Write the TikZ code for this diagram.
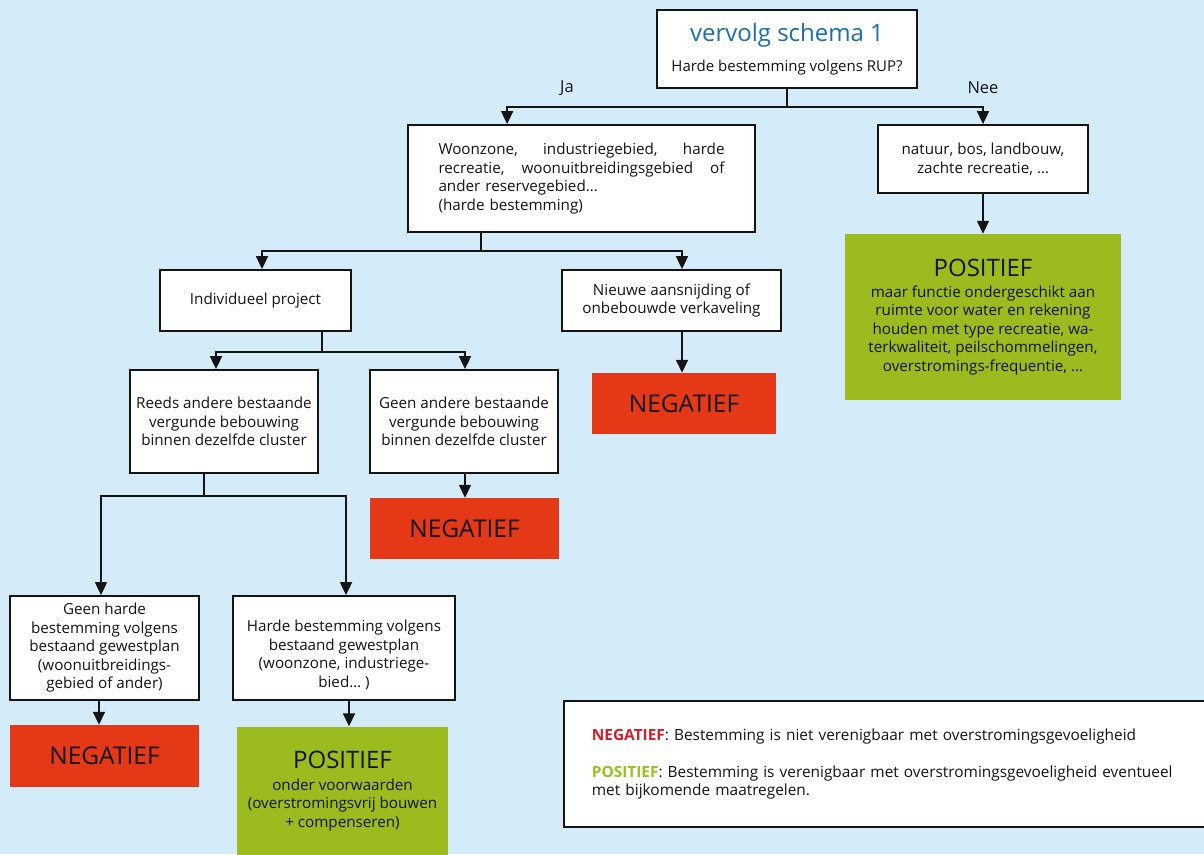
\documentclass[tikz,border=0pt]{standalone}
\usepackage{fontspec}
\setmainfont{Open Sans}
\usetikzlibrary{arrows.meta,calc}
\definecolor{bg}{RGB}{212,235,250}
\definecolor{negred}{RGB}{228,56,22}
\definecolor{posgreen}{RGB}{155,187,30}
\definecolor{titleblue}{RGB}{26,110,180}
\definecolor{legred}{RGB}{215,30,40}
\definecolor{leggreen}{RGB}{150,195,30}
\definecolor{ink}{RGB}{20,20,20}
\begin{document}
\begin{tikzpicture}[x=1pt,y=-1pt,
  box/.style={draw=ink,fill=white,line width=1.8pt,inner sep=0pt,align=center,text=ink,font=\fontsize{15.2}{18.5}\selectfont},
  negbox/.style={fill=negred,inner sep=0pt,text=ink,font=\fontsize{24.5}{28}\selectfont},
  posbox/.style={fill=posgreen,inner sep=0pt,align=center,text=ink,font=\fontsize{15.2}{18.5}\selectfont},
  lbl/.style={text=ink,inner sep=0pt,font=\fontsize{16.5}{19}\selectfont},
  link/.style={draw=ink,line width=1.8pt},
  arr/.style={draw=ink,line width=1.8pt,-{Triangle[width=12pt,length=13pt]}}]
\useasboundingbox (0,0) rectangle (1204,854);
\fill[bg] (0,0) rectangle (1204,854);

% nodes
\node[box,minimum width=260,minimum height=78] (top) at (787,49)
  {{\fontsize{24}{27}\selectfont\color{titleblue}vervolg schema 1}\\[11pt]
   {\fontsize{15}{17}\selectfont Harde bestemming volgens RUP?}};
\node[lbl] (ja) at (567,88) {Ja};
\node[lbl] (nee) at (983,88) {Nee};

\node[box,minimum width=347,minimum height=107,text width=286,align=left] (woon) at (581.5,178.5)
  {Woonzone,\hfill industriegebied,\hfill harde\\
   recreatie,\hfill woonuitbreidingsgebied\hfill of\\
   ander reservegebied\dots\\
   (harde bestemming)};
\node[box,minimum width=210,minimum height=68] (nat) at (983,159)
  {natuur, bos, landbouw,\\zachte recreatie, \dots};
\node[posbox,minimum width=276,minimum height=166] (pos1) at (983,317)
  {{\fontsize{24}{27}\selectfont POSITIEF}\\[2pt]
   maar functie ondergeschikt aan\\
   ruimte voor water en rekening\\
   houden met type recreatie, wa-\\
   terkwaliteit, peilschommelingen,\\
   overstromings-frequentie, \dots};

\node[box,minimum width=191,minimum height=61] (indiv) at (255.5,300.5) {Individueel project};
\node[box,minimum width=219,minimum height=61] (nieuw) at (671.5,300.5)
  {Nieuwe aansnijding of\\onbebouwde verkaveling};
\node[negbox,minimum width=184,minimum height=61] (neg1) at (684,403.5) {NEGATIEF};

\node[box,minimum width=188,minimum height=103] (reeds) at (224,421.5)
  {Reeds andere bestaande\\vergunde bebouwing\\binnen dezelfde cluster};
\node[box,minimum width=188,minimum height=103] (geenand) at (464,421.5)
  {Geen andere bestaande\\vergunde bebouwing\\binnen dezelfde cluster};
\node[negbox,minimum width=189,minimum height=61] (neg2) at (464.5,528.5) {NEGATIEF};

\node[box,minimum width=189,minimum height=104] (geenh) at (104.5,648)
  {Geen harde\\bestemming volgens\\bestaand gewestplan\\(woonuitbreidings-\\gebied of ander)};
\node[box,minimum width=222,minimum height=104] (hardeg) at (344,648)
  {\rule{0pt}{25pt}Harde bestemming volgens\\bestaand gewestplan\\(woonzone, industriege-\\bied\dots\ )};
\node[negbox,minimum width=189,minimum height=62] (neg3) at (104.5,756) {NEGATIEF};
\node[posbox,minimum width=211,minimum height=129] (pos2) at (342.5,791)
  {{\fontsize{24}{27}\selectfont POSITIEF}\\[3pt]
   onder voorwaarden\\(overstromingsvrij bouwen\\+ compenseren)};

\node[draw=ink,fill=white,line width=1.8pt,minimum width=660,minimum height=126,anchor=north west,
      inner sep=0pt,text width=604,align=left,text=ink,font=\fontsize{15.4}{18}\selectfont] (leg) at (563,700)
  {{\bfseries\color{legred}NEGATIEF}: Bestemming is niet verenigbaar met overstromingsgevoeligheid\\[19pt]
   {\bfseries\color{leggreen}POSITIEF}: Bestemming is verenigbaar met overstromingsgevoeligheid eventueel\\
   met bijkomende maatregelen.};

% connectors
\draw[link] (top.south) -- ++(0,18) coordinate (j1);
\draw[arr] (j1) -| ([xshift=100]woon.north west);
\draw[arr] (j1) -| (nat.north);
\draw[arr] (nat.south) -- (pos1.north);

\draw[link] ([xshift=74]woon.south west) -- ++(0,18) coordinate (j2);
\draw[arr] (j2) -| ([xshift=6.5]indiv.north);
\draw[arr] (j2) -| ([xshift=10.5]nieuw.north);
\draw[arr] ([xshift=10.5]nieuw.south) -- ([xshift=10.5]nieuw.south |- neg1.north);

\draw[link] ([xshift=66.5]indiv.south) -- ++(0,20) coordinate (j3);
\draw[arr] (j3) -| ([xshift=-8]reeds.north);
\draw[arr] (j3) -| ([xshift=1]geenand.north);
\draw[arr] ([xshift=1]geenand.south) -- ([xshift=1]geenand.south |- neg2.north);

\draw[link] ([xshift=-20]reeds.south) -- ++(0,22) coordinate (j4);
\draw[arr] (j4) -| ([xshift=-3.5]geenh.north);
\draw[arr] (j4) -| ([xshift=2]hardeg.north);
\draw[arr] ([xshift=-5.5]geenh.south) -- ([xshift=-5.5]geenh.south |- neg3.north);
\draw[arr] ([xshift=5]hardeg.south) -- ([xshift=5]hardeg.south |- pos2.north);
\end{tikzpicture}
\end{document}
